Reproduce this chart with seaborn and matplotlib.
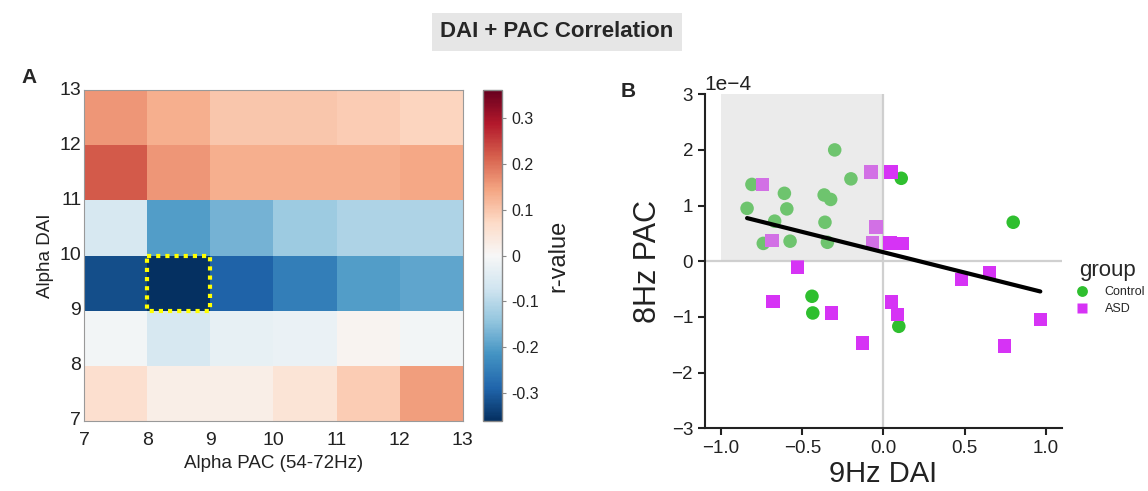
import numpy as np
import pandas as pd
import matplotlib
matplotlib.use('Agg')
import matplotlib.pyplot as plt
from matplotlib.patches import Rectangle
import seaborn as sns

# heatmap: r-values, rows top (DAI 12-13) to bottom (DAI 7-8), cols PAC 7-8 ... 12-13
freq_edges = [7, 8, 9, 10, 11, 12, 13]
r_values = [
    [0.16, 0.13, 0.10, 0.10, 0.09, 0.08],
    [0.22, 0.16, 0.13, 0.13, 0.13, 0.14],
    [-0.06, -0.20, -0.17, -0.13, -0.11, -0.11],
    [-0.32, -0.36, -0.29, -0.25, -0.20, -0.19],
    [-0.01, -0.06, -0.03, -0.025, 0.01, -0.01],
    [0.06, 0.025, 0.025, 0.05, 0.09, 0.15],
]
cbar_ticks = [-0.3, -0.2, -0.1, 0, 0.1, 0.2, 0.3]
cbar_labels = ['-0.3', '-0.2', '-0.1', '0', '0.1', '0.2', '0.3']

# scatter: 9Hz DAI vs 8Hz PAC (PAC in units of 1e-4)
ctrl_dai = [-0.84, -0.81, -0.67, -0.74, -0.61, -0.595, -0.575, -0.365, -0.325, -0.36,
            -0.345, -0.30, -0.20, 0.11, -0.44, -0.435, 0.095, 0.80]
ctrl_pac = [0.95, 1.38, 0.72, 0.32, 1.22, 0.94, 0.36, 1.19, 1.11, 0.70,
            0.34, 2.00, 1.48, 1.49, -0.63, -0.93, -1.17, 0.70]
asd_dai = [-0.745, -0.685, -0.53, -0.075, 0.047, -0.045, -0.066, 0.04, 0.117,
           -0.68, -0.32, -0.13, 0.05, 0.087, 0.48, 0.655, 0.745, 0.967]
asd_pac = [1.38, 0.37, -0.10, 1.60, 1.60, 0.61, 0.34, 0.33, 0.32,
           -0.72, -0.93, -1.47, -0.73, -0.96, -0.33, -0.20, -1.52, -1.05]

sns.set_style('ticks')
plt.rcParams['font.family'] = ['Liberation Sans', 'DejaVu Sans']

fig = plt.figure(figsize=(11.48, 4.91), dpi=100)

# ---- panel A: heatmap
ax1 = fig.add_axes([0.0732, 0.1426, 0.330, 0.674])
cax = fig.add_axes([0.4207, 0.1426, 0.0166, 0.674])
sns.heatmap(np.array(r_values), cmap='RdBu_r', vmin=-0.36, vmax=0.36,
            ax=ax1, cbar_ax=cax)
ax1.set_xticks(range(len(freq_edges)))
ax1.set_xticklabels(freq_edges, rotation=0, fontsize=14)
ax1.set_yticks(range(len(freq_edges)))
ax1.set_yticklabels(freq_edges[::-1], rotation=0, fontsize=14)
ax1.tick_params(length=0, pad=2, colors='#222222')
ax1.tick_params(axis='x', pad=8)
ax1.set_xlabel('Alpha PAC (54-72Hz)', fontsize=13.5, color='#222222', labelpad=4)
ax1.set_ylabel('Alpha DAI', fontsize=13.5, color='#222222', labelpad=4)
for sp in ax1.spines.values():
    sp.set_visible(True)
    sp.set_color('#999999')
ax1.add_patch(Rectangle((1, 3), 1, 1, fill=False, edgecolor='#ffff00',
                        linestyle=(0, (1, 1.2)), linewidth=3, zorder=5))

cax.set_yticks(cbar_ticks)
cax.set_yticklabels(cbar_labels, fontsize=11.5)
cax.tick_params(length=3, color='#888888', colors='#222222')
cax.set_ylabel('r-value', fontsize=17, color='#222222', labelpad=6)
cbar = ax1.collections[0].colorbar
cbar.outline.set_edgecolor('#888888')
cbar.outline.set_linewidth(1)

# ---- panel B: scatter
df = pd.DataFrame({
    'dai': ctrl_dai + asd_dai,
    'pac': np.array(ctrl_pac + asd_pac) * 1e-4,
    'group': ['Control'] * len(ctrl_dai) + ['ASD'] * len(asd_dai),
})

ax2 = fig.add_axes([0.614, 0.128, 0.311, 0.680])
ax2.axhline(0, color='#d0d0d0', lw=1.6, zorder=1)
ax2.axvline(0, color='#d0d0d0', lw=1.6, zorder=1)
sns.scatterplot(data=df, x='dai', y='pac', hue='group', style='group',
                hue_order=['Control', 'ASD'],
                markers={'Control': 'o', 'ASD': 's'},
                palette={'Control': '#2fbf2f', 'ASD': '#d633f5'},
                s=95, edgecolor='none', ax=ax2, zorder=2)
ax2.fill_between([-1, 0], 0, 3e-4, color='#cdcdcd', alpha=0.4, lw=0, zorder=3)
sns.regplot(data=df, x='dai', y='pac', scatter=False, ci=None, ax=ax2,
            line_kws={'color': 'black', 'lw': 3, 'zorder': 4})
ax2.set_xlim(-1.1, 1.1)
ax2.set_ylim(-3e-4, 3e-4)
ax2.set_xticks([-1.0, -0.5, 0.0, 0.5, 1.0])
ax2.set_yticks(np.arange(-3, 4) * 1e-4)
ax2.ticklabel_format(axis='y', style='sci', scilimits=(-4, -4))
ax2.yaxis.get_offset_text().set_fontsize(15)
ax2.tick_params(labelsize=13.5, length=5, width=1.5, colors='#222222')
for sp in ['left', 'bottom']:
    ax2.spines[sp].set_linewidth(1.5)
    ax2.spines[sp].set_color('#222222')
sns.despine(ax=ax2)
ax2.set_xlabel('9Hz DAI', fontsize=21, color='#222222', labelpad=2)
ax2.set_ylabel('8Hz PAC', fontsize=22, color='#222222', labelpad=6)
sns.move_legend(ax2, 'center left', bbox_to_anchor=(0.99, 0.42), frameon=False,
                title='group', title_fontsize=16, fontsize=9,
                markerscale=0.8, handletextpad=0.8, labelspacing=0.4)

fig.text(0.019, 0.83, 'A', fontsize=15, fontweight='bold')
fig.text(0.541, 0.803, 'B', fontsize=15, fontweight='bold')
fig.text(0.485, 0.935, 'DAI + PAC Correlation', fontsize=16, fontweight='bold',
         ha='center', va='center',
         bbox=dict(facecolor='#e6e6e6', edgecolor='none', pad=6))

fig.savefig('out.png', dpi=100)
